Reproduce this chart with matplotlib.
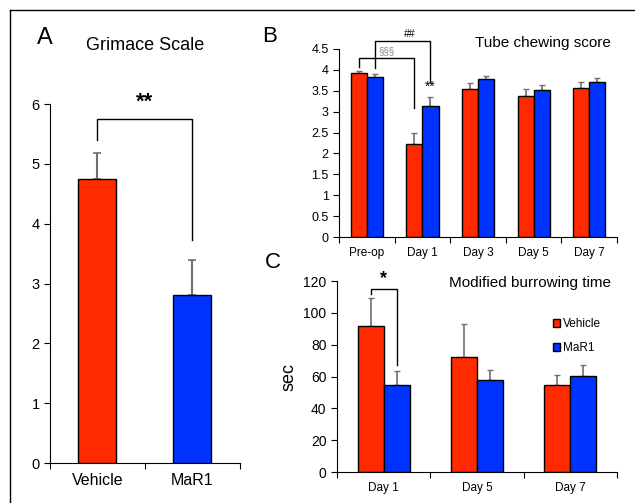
import matplotlib.pyplot as plt
import numpy as np

plt.rcParams['font.family'] = ['Liberation Sans', 'DejaVu Sans']

RED = '#ff2a00'
BLUE = '#0033ff'
ERR = '#707070'

# ---------------- data ----------------
grim_groups = ['Vehicle', 'MaR1']
grim_mean = [4.75, 2.80]
grim_err = [0.43, 0.60]

tube_days = ['Pre-op', 'Day 1', 'Day 3', 'Day 5', 'Day 7']
tube_veh = [3.93, 2.22, 3.55, 3.37, 3.56]
tube_veh_err = [0.05, 0.27, 0.14, 0.18, 0.14]
tube_mar = [3.83, 3.13, 3.78, 3.51, 3.72]
tube_mar_err = [0.07, 0.21, 0.08, 0.13, 0.09]

burrow_days = ['Day 1', 'Day 5', 'Day 7']
burrow_veh = [91.5, 72.5, 54.5]
burrow_veh_err = [18.0, 20.5, 6.5]
burrow_mar = [54.5, 58.0, 60.5]
burrow_mar_err = [9.0, 6.0, 7.0]


def style_axes(ax, n, labels, fs, yfs):
    ax.spines['top'].set_visible(False)
    ax.spines['right'].set_visible(False)
    ax.set_xlim(-0.5, n - 0.5)
    ax.set_xticks(np.arange(n + 1) - 0.5)
    ax.set_xticklabels([])
    ax.set_xticks(np.arange(n), minor=True)
    ax.set_xticklabels(labels, minor=True, fontsize=fs)
    ax.tick_params(axis='x', which='minor', length=0, pad=7)
    ax.tick_params(axis='x', which='major', length=4, direction='out')
    ax.tick_params(axis='y', length=4, direction='out', labelsize=yfs)


def bracket(ax, x1, x2, y, y1, y2, color='black', lw=1.0):
    ax.plot([x1, x1, x2, x2], [y1, y, y, y2], color=color, lw=lw,
            clip_on=False)


fig = plt.figure(figsize=(6.35, 5.03), dpi=100)

# figure frame (top and left edges visible)
fig.add_artist(plt.Line2D([10 / 635, 1], [1 - 10 / 503, 1 - 10 / 503],
                          color='black', lw=1.0, transform=fig.transFigure))
fig.add_artist(plt.Line2D([10 / 635, 10 / 635], [0, 1 - 10 / 503],
                          color='black', lw=1.0, transform=fig.transFigure))

# ---------------- A: Grimace Scale ----------------
axA = fig.add_axes([0.0787, 0.0795, 0.2992, 0.7137])
xa = np.arange(len(grim_groups))
axA.bar(xa, grim_mean, width=0.4, color=[RED, BLUE], edgecolor='black',
        linewidth=1.0, zorder=2)
axA.errorbar(xa, grim_mean, yerr=[[0, 0], grim_err], fmt='none',
             ecolor=ERR, elinewidth=1.5, capsize=3, capthick=1.2, zorder=1)
axA.set_ylim(0, 6)
axA.set_yticks(range(7))
style_axes(axA, 2, grim_groups, 11.5, 10.5)
bracket(axA, 0, 1, 5.75, 5.4, 3.72)
axA.text(0.5, 5.85, '**', ha='center', va='bottom', fontsize=16,
         fontweight='bold')
fig.text(145 / 635, 1 - 45 / 503, 'Grimace Scale', ha='center',
         va='center', fontsize=13)
fig.text(45 / 635, 1 - 38 / 503, 'A', ha='center', va='center',
         fontsize=17)

# ---------------- B: Tube chewing score ----------------
axB = fig.add_axes([0.5339, 0.5288, 0.4378, 0.3738])
xb = np.arange(len(tube_days))
w = 0.29
axB.bar(xb - w / 2, tube_veh, width=w, color=RED, edgecolor='black',
        linewidth=1.0, zorder=2)
axB.bar(xb + w / 2, tube_mar, width=w, color=BLUE, edgecolor='black',
        linewidth=1.0, zorder=2)
axB.errorbar(xb - w / 2, tube_veh, yerr=[np.zeros(5), tube_veh_err],
             fmt='none', ecolor=ERR, elinewidth=1.2, capsize=2.5,
             capthick=1.0, zorder=1)
axB.errorbar(xb + w / 2, tube_mar, yerr=[np.zeros(5), tube_mar_err],
             fmt='none', ecolor=ERR, elinewidth=1.2, capsize=2.5,
             capthick=1.0, zorder=1)
axB.set_ylim(0, 4.5)
axB.set_yticks(np.arange(0, 4.51, 0.5))
axB.set_yticklabels(['0', '0.5', '1', '1.5', '2', '2.5', '3', '3.5', '4',
                     '4.5'])
style_axes(axB, 5, tube_days, 8.5, 9)
bracket(axB, -w / 2, 1 - w / 2, 4.28, 4.08, 3.08)
bracket(axB, w / 2, 1 + w / 2, 4.70, 4.05, 3.72)
axB.text(0.35, 4.33, '§§§', ha='center', va='bottom', fontsize=7,
         color='#888888')
axB.text(0.78, 4.74, '##', ha='center', va='bottom', fontsize=7.5)
axB.text(1 + w / 2, 3.42, '**', ha='center', va='bottom', fontsize=10)
fig.text(543 / 635, 1 - 43 / 503, 'Tube chewing score', ha='center',
         va='center', fontsize=11)
fig.text(270 / 635, 1 - 36 / 503, 'B', ha='center', va='center',
         fontsize=16)

# ---------------- C: Modified burrowing time ----------------
axC = fig.add_axes([0.5307, 0.0616, 0.441, 0.3797])
xc = np.arange(len(burrow_days))
w = 0.28
axC.bar(xc - w / 2, burrow_veh, width=w, color=RED, edgecolor='black',
        linewidth=1.0, zorder=2, label='Vehicle')
axC.bar(xc + w / 2, burrow_mar, width=w, color=BLUE, edgecolor='black',
        linewidth=1.0, zorder=2, label='MaR1')
axC.errorbar(xc - w / 2, burrow_veh, yerr=[np.zeros(3), burrow_veh_err],
             fmt='none', ecolor=ERR, elinewidth=1.2, capsize=2.5,
             capthick=1.0, zorder=1)
axC.errorbar(xc + w / 2, burrow_mar, yerr=[np.zeros(3), burrow_mar_err],
             fmt='none', ecolor=ERR, elinewidth=1.2, capsize=2.5,
             capthick=1.0, zorder=1)
axC.set_ylim(0, 120)
axC.set_yticks(range(0, 121, 20))
style_axes(axC, 3, burrow_days, 8.5, 10)
axC.set_ylabel('sec', fontsize=13, labelpad=4)
bracket(axC, -w / 2, w / 2, 114.8, 112, 67)
axC.text(0.0, 116.5, '*', ha='center', va='bottom', fontsize=13,
         fontweight='bold')
axC.legend(loc='upper right', bbox_to_anchor=(0.98, 0.86), frameon=False,
           fontsize=8.5, handlelength=0.6, handleheight=0.7,
           handletextpad=0.2, labelspacing=1.0)
fig.text(530 / 635, 1 - 283 / 503, 'Modified burrowing time', ha='center',
         va='center', fontsize=11)
fig.text(273 / 635, 1 - 263 / 503, 'C', ha='center', va='center',
         fontsize=16)

fig.savefig('out.png', dpi=100)
